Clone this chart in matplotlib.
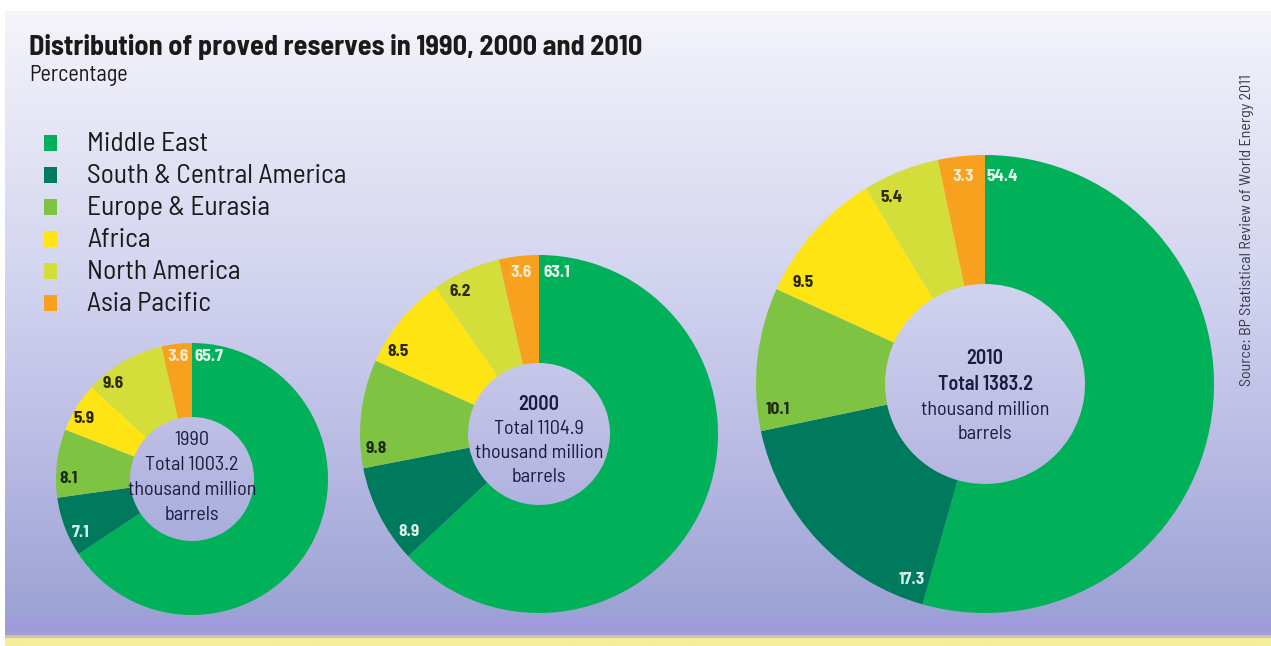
import numpy as np
import matplotlib
matplotlib.use("Agg")
import matplotlib.pyplot as plt
from matplotlib.colors import LinearSegmentedColormap
from matplotlib.patches import Rectangle

# ---------------- data ----------------
regions = ["Middle East", "South & Central America", "Europe & Eurasia",
           "Africa", "North America", "Asia Pacific"]
years = ["1990", "2000", "2010"]
totals = ["1003.2", "1104.9", "1383.2"]
share_1990 = [65.7, 7.1, 8.1, 5.9, 9.6, 3.6]
share_2000 = [63.1, 8.9, 9.8, 8.5, 6.2, 3.6]
share_2010 = [54.4, 17.3, 10.1, 9.5, 5.4, 3.3]
shares = [share_1990, share_2000, share_2010]

colors = ["#00b159", "#007a5c", "#7fc343", "#ffe414", "#d3de3a", "#f7a11f"]
label_colors = ["#e8f8ee", "#d8f2ea", "#1e2a10", "#2a2400", "#2a2a00", "#fdebd0"]

plt.rcParams["font.family"] = ["Barlow Semi Condensed", "DejaVu Sans"]

W, H = 1271, 646
fig = plt.figure(figsize=(W / 100, H / 100), dpi=100)
ax = fig.add_axes([0, 0, 1, 1])

def Y(y_img):
    return H - y_img

# ---------------- background ----------------
stops = [(0.0, "#ffffff"), (8 / H, "#ffffff"), (10 / H, "#f4f4fa"),
         (300 / H, "#d0d1ee"), (470 / H, "#b6b8e2"), (618 / H, "#9ca2d4"),
         (622 / H, "#a39ae0"), (632 / H, "#a09bdb"), (637 / H, "#a6a2c8"),
         (640 / H, "#f4ec96"), (1.0, "#f6ee9c")]
cmap = LinearSegmentedColormap.from_list("bg", stops)
grad = np.linspace(0, 1, H).reshape(-1, 1)
ax.imshow(grad, cmap=cmap, aspect="auto", extent=[0, W, 0, H], zorder=0,
          interpolation="bilinear", origin="upper")
ax.add_patch(Rectangle((0, 0), 5, H, color="white", zorder=1, lw=0))

# ---------------- donuts ----------------
centers = [(192, 479), (539, 434), (985, 384)]
radii = [136, 179, 229]
holes = [62, 71, 100]
center_lines_y = [[440, 465, 490, 515], [405, 429, 453, 477], [358, 384, 410, 434]]
center_bold = [[False, False, False, False], [True, False, False, False],
               [True, True, False, False]]

for vals, (cx, cy), R, rin, yr, tot, lys, bolds in zip(
        shares, centers, radii, holes, years, totals, center_lines_y, center_bold):
    ax.pie(vals, colors=colors, startangle=90, counterclock=False,
           center=(cx, Y(cy)), radius=R,
           wedgeprops=dict(width=R - rin, edgecolor="none", linewidth=0))
    total = sum(vals)
    start = 0.0
    for i, v in enumerate(vals):
        span = v / total * 360.0
        if span < 15:
            a = start + span / 2
        else:
            a = start + np.degrees(19.0 / R)
        th = np.radians(90 - a)
        r = 0.91 * R
        ax.text(cx + r * np.cos(th), Y(cy) + r * np.sin(th), f"{v:.1f}",
                ha="center", va="center", fontsize=12.5, fontweight="bold",
                color=label_colors[i], zorder=5)
        start += span
    lines = [yr, f"Total {tot}", "thousand million", "barrels"]
    for txt, yy, b in zip(lines, lys, bolds):
        ax.text(cx, Y(yy), txt, ha="center", va="center", fontsize=14.5,
                fontweight="semibold" if b else "normal", color="#1c1c3c", zorder=5)

# ---------------- title ----------------
ax.text(29, Y(47), "Distribution of proved reserves in 1990, 2000 and 2010",
        ha="left", va="center", fontsize=20.3, fontweight="bold", color="#1a1a1a")
ax.text(29, Y(76), "Percentage", ha="left", va="center", fontsize=16, color="#1a1a1a")

# ---------------- legend ----------------
leg_y0, leg_dy = 143, 32
for i, (name, c) in enumerate(zip(regions, colors)):
    yy = leg_y0 + i * leg_dy
    ax.add_patch(Rectangle((44, Y(yy) - 8), 13, 16, color=c, lw=0, zorder=4))
    ax.text(87, Y(yy + 1), name, ha="left", va="center", fontsize=19.8, color="#1a1a1a")

# ---------------- source ----------------
ax.text(1247, Y(230), "Source: BP Statistical Review of World Energy 2011",
        rotation=90, ha="center", va="center", fontsize=11.5, color="#3a3a4a")

ax.set_xlim(0, W)
ax.set_ylim(0, H)
ax.set_aspect("auto")
ax.axis("off")
fig.savefig("out.png", dpi=100)
